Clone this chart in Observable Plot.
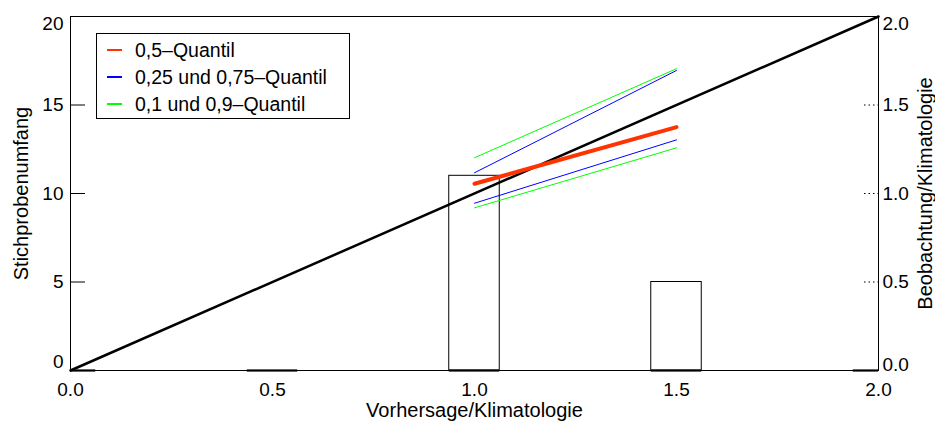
<!DOCTYPE html>
<html>
<head>
<meta charset="utf-8">
<script src="https://cdn.jsdelivr.net/npm/d3@7"></script>
<script src="https://cdn.jsdelivr.net/npm/@observablehq/plot@0.6"></script>
<style>
  html, body { margin: 0; padding: 0; background: #fff; }
  #wrap { position: relative; width: 935px; height: 421px; font-family: "Liberation Sans", Arial, sans-serif; }
  #legend { position: absolute; left: 96px; top: 33px; width: 252px; height: 84px; border: 1px solid #000; background: #fff; font-size: 19.5px; color: #000; }
  .row { position: absolute; left: 10px; height: 20px; display: flex; align-items: center; white-space: nowrap; }
  .row span.sw { display: inline-block; width: 15px; height: 0; border-top: 2px solid; margin-right: 13px; }
</style>
</head>
<body>
<div id="wrap"></div>
<script>
// ---- data ----
const binCenters = [0.0, 0.5, 1.0, 1.5, 2.0];
const binCounts  = [0, 0, 11, 5, 0];
const binWidth = 0.125;
const quantX = [1.0, 1.5];
const q50 = [1.055, 1.375];
const q25 = [0.945, 1.303];
const q75 = [1.117, 1.695];
const q10 = [0.919, 1.258];
const q90 = [1.202, 1.705];
const diagX = [0, 2];
const leftTicks = [0, 5, 10, 15, 20];
const rightTicks = [0.0, 0.5, 1.0, 1.5, 2.0];
const xTicks = [0.0, 0.5, 1.0, 1.5, 2.0];
const legendLabels = ["0,5\u2013Quantil", "0,25 und 0,75\u2013Quantil", "0,1 und 0,9\u2013Quantil"];
const colRed = "#ff3300", colBlue = "#0000ff", colGreen = "#00ff00";

// ---- tables ----
const bins = binCenters.map((c, i) => ({
  x1: Math.max(0, c - binWidth / 2), x2: Math.min(2, c + binWidth / 2), n: binCounts[i]
}));
const nonzero = bins.filter(b => b.n > 0);
const seg = arr => quantX.map((x, i) => ({x, r: arr[i]}));
const diag = diagX.map(x => ({x, r: x}));
const R = 10; // right-axis ratio -> left count scale (2.0 <-> 20)

const fmt1 = d3.format(".1f");
const font = "Liberation Sans, Arial, sans-serif";
const TF = 19; // tick font size
const LF = 20; // title font size

const chart = Plot.plot({
  width: 935, height: 421,
  marginLeft: 70, marginRight: 57, marginTop: 16, marginBottom: 51,
  style: {fontFamily: font, fontSize: TF + "px", color: "#000", background: "#fff"},
  x: {domain: [0, 2]},
  y: {domain: [0, 20]},
  marks: [
    // histogram
    Plot.rectY(nonzero, {x1: "x1", x2: "x2", y1: 0, y2: "n", fill: "none", stroke: "#000", strokeWidth: 1}),
    Plot.ruleY(bins, {x1: "x1", x2: "x2", y: 0, stroke: "#333", strokeWidth: 2.5}),
    // diagonal
    Plot.line(diag, {x: "x", y: d => d.r * R, stroke: "#000", strokeWidth: 2.5}),
    // quantile lines
    Plot.line(seg(q90), {x: "x", y: d => d.r * R, stroke: colGreen, strokeWidth: 1}),
    Plot.line(seg(q10), {x: "x", y: d => d.r * R, stroke: colGreen, strokeWidth: 1}),
    Plot.line(seg(q75), {x: "x", y: d => d.r * R, stroke: colBlue, strokeWidth: 1}),
    Plot.line(seg(q25), {x: "x", y: d => d.r * R, stroke: colBlue, strokeWidth: 1}),
    Plot.line(seg(q50), {x: "x", y: d => d.r * R, stroke: colRed, strokeWidth: 4}),
    Plot.frame({stroke: "#000", strokeWidth: 1}),
    // left axis
    Plot.axisY({anchor: "left", ticks: leftTicks.slice(1, 4), tickSize: -15, tickFormat: () => "", label: null, stroke: "#000"}),
    Plot.axisY({anchor: "left", ticks: leftTicks.slice(1, 4), tickSize: 0, tickPadding: 7, label: null, fontSize: TF}),
    Plot.axisY({anchor: "left", ticks: [leftTicks[0]], tickSize: 0, tickPadding: 7, dy: -9, label: null, fontSize: TF}),
    Plot.axisY({anchor: "left", ticks: [leftTicks[4]], tickSize: 0, tickPadding: 7, dy: 7, label: null, fontSize: TF}),
    // right axis
    Plot.axisY({anchor: "right", ticks: rightTicks.slice(1, 4).map(v => v * R), tickSize: -15, strokeDasharray: "1.5,3", tickFormat: () => "", label: null}),
    Plot.axisY({anchor: "right", ticks: rightTicks.slice(1, 4).map(v => v * R), tickSize: 0, tickPadding: 4, tickFormat: d => fmt1(d / R), label: null, fontSize: TF}),
    Plot.axisY({anchor: "right", ticks: [rightTicks[0] * R], tickSize: 0, tickPadding: 4, dy: -6, tickFormat: d => fmt1(d / R), label: null, fontSize: TF}),
    Plot.axisY({anchor: "right", ticks: [rightTicks[4] * R], tickSize: 0, tickPadding: 4, dy: 7, tickFormat: d => fmt1(d / R), label: null, fontSize: TF}),
    // bottom axis
    Plot.axisX({anchor: "bottom", ticks: xTicks, tickSize: 0, tickPadding: 12, tickFormat: fmt1, label: null, fontSize: TF}),
    // axis titles
    Plot.text(["Stichprobenumfang"], {frameAnchor: "left", textAnchor: "middle", lineAnchor: "middle", rotate: -90, dx: -49, fontSize: LF}),
    Plot.text(["Beobachtung/Klimatologie"], {frameAnchor: "right", textAnchor: "middle", lineAnchor: "middle", rotate: -90, dx: 47, fontSize: LF}),
    Plot.text(["Vorhersage/Klimatologie"], {frameAnchor: "bottom", textAnchor: "middle", lineAnchor: "middle", dy: 40, fontSize: LF})
  ]
});

const wrap = document.getElementById("wrap");
wrap.appendChild(chart);

// legend
const legend = document.createElement("div");
legend.id = "legend";
const cols = [colRed, colBlue, colGreen];
legendLabels.forEach((t, i) => {
  const row = document.createElement("div");
  row.className = "row";
  row.style.top = (6 + i * 27) + "px";
  const sw = document.createElement("span");
  sw.className = "sw";
  sw.style.borderTopColor = cols[i];
  row.appendChild(sw);
  const tx = document.createElement("span");
  tx.textContent = t;
  row.appendChild(tx);
  legend.appendChild(row);
});
wrap.appendChild(legend);
</script>
</body>
</html>
